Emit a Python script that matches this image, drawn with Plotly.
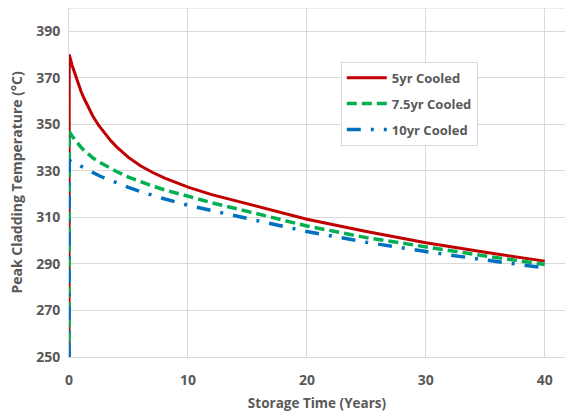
import plotly.graph_objects as go

time = [0, 0.02, 0.25, 0.5, 0.75, 1, 1.25, 1.5, 2, 2.5, 3, 3.5, 4, 5, 6, 7, 8, 10, 12, 15, 20, 25, 30, 35, 40]
red_5yr = [250, 380, 375.5, 371.5, 367.5, 364.3, 361.3, 358.6, 353.6, 349.5, 346, 343, 340.3, 335.8, 332.2, 329.4, 327, 323, 319.8, 315.8, 309.2, 303.9, 299.1, 295, 291.2]
green_75yr = [250, 347, 345, 343.3, 341.7, 340.2, 338.9, 337.7, 335.6, 333.9, 332.4, 331, 329.7, 327.3, 325.3, 323.5, 321.9, 319, 316.3, 312.6, 306.3, 301.3, 297.2, 293.4, 289.8]
blue_10yr = [250, 334.5, 334, 333.3, 332.6, 331.9, 331.2, 330.5, 329.2, 328, 326.9, 325.8, 324.8, 322.9, 321.1, 319.5, 318, 315.2, 312.9, 309.5, 303.9, 299.3, 295.3, 291.7, 288.3]

series_names = ["5yr Cooled", "7.5yr Cooled", "10yr Cooled"]
y_ticks = [250, 270, 290, 310, 330, 350, 370, 390]
x_ticks = [0, 10, 20, 30, 40]

txt = "#595959"
grid = "#d9d9d9"
font_family = "Open Sans, Liberation Sans, sans-serif"

fig = go.Figure()
fig.add_trace(go.Scatter(x=time, y=red_5yr, mode="lines", name=series_names[0], legendgroup="a",
                         line=dict(color="#c00000", width=3)))
fig.add_trace(go.Scatter(x=time, y=green_75yr, mode="lines", name=series_names[1], legendgroup="b",
                         line=dict(color="#00b050", width=3.5, dash="10px,5px")))
fig.add_trace(go.Scatter(x=time, y=blue_10yr, mode="lines", name=series_names[2], legendgroup="c",
                         line=dict(color="#0070c0", width=3.5, dash="14px,10px,3px,10px")))

fig.add_shape(type="line", xref="paper", yref="y", x0=0, x1=1, y0=400, y1=400,
              line=dict(color=grid, width=1), layer="below")

fig.update_layout(
    width=565, height=412,
    margin=dict(l=69, r=0, t=8, b=55),
    paper_bgcolor="white", plot_bgcolor="white",
    font=dict(family=font_family, color=txt, size=13),
    showlegend=True,
    legend=dict(x=0.548, y=0.846, xanchor="left", yanchor="top",
                bgcolor="white", bordercolor=grid, borderwidth=1,
                font=dict(size=13, color=txt, weight="bold"),
                tracegroupgap=6, itemwidth=40),
    xaxis=dict(range=[0, 41.7], tickvals=x_ticks, showgrid=True, gridcolor=grid,
               gridwidth=1, zeroline=False, showline=True, linecolor=grid, linewidth=1,
               ticks="", ticklabelstandoff=10, tickfont=dict(size=14, color=txt, weight="bold"),
               title=dict(text="Storage Time (Years)", font=dict(size=13.5, color=txt, weight="bold"),
                          standoff=12)),
    yaxis=dict(range=[250, 400], tickvals=y_ticks, showgrid=True, gridcolor=grid,
               gridwidth=1, zeroline=False, showline=True, linecolor=grid, linewidth=1,
               ticks="", ticklabelstandoff=5, tickfont=dict(size=14, color=txt, weight="bold"),
               title=dict(text="Peak Cladding Temperature (°C)",
                          font=dict(size=14, color=txt, weight="bold"), standoff=10)),
)

fig.write_html("out.html")
